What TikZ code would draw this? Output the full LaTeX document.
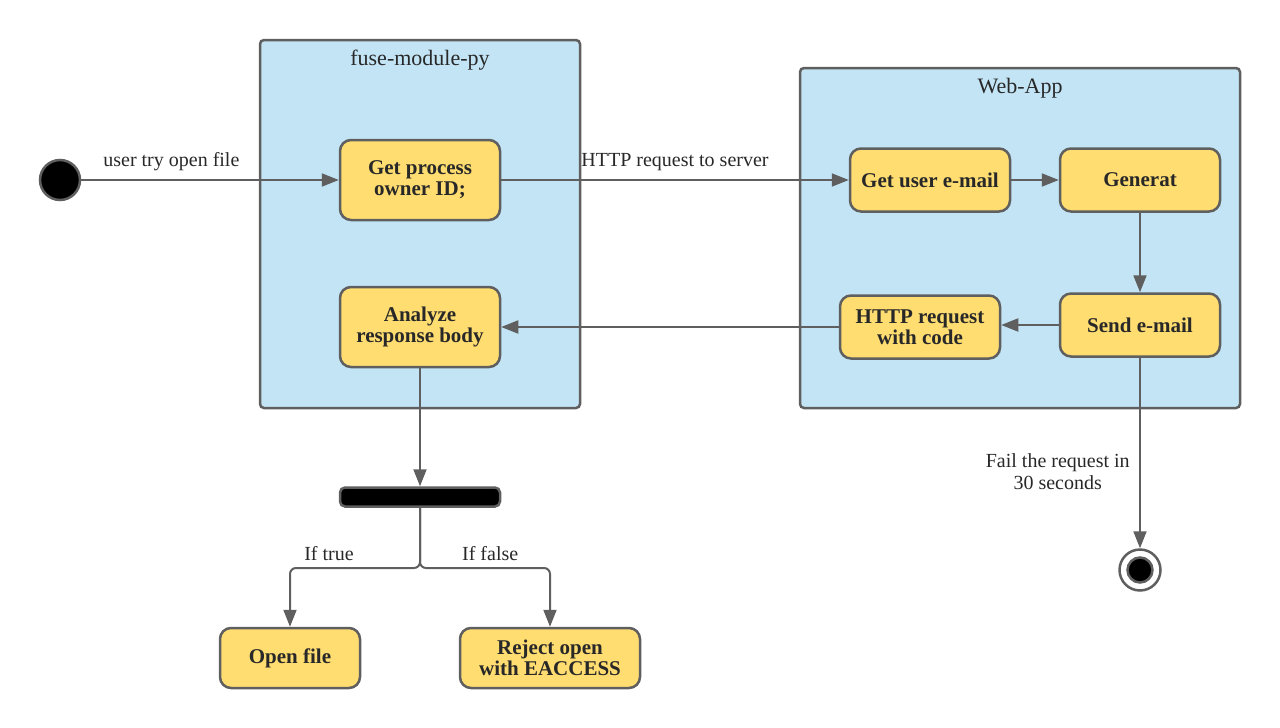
\documentclass[tikz,border=0pt]{standalone}
\usepackage{fontspec}
\setmainfont{Liberation Serif}
\usepackage{tikz}
\usetikzlibrary{positioning}
\usetikzlibrary{arrows.meta}
\definecolor{linegray}{RGB}{95,95,95}
\definecolor{laneblue}{RGB}{194,228,245}
\definecolor{actyellow}{RGB}{255,221,113}
\definecolor{textgray}{RGB}{40,40,40}
\tikzstyle{lane}=[rectangle,rounded corners=4pt,line width=2.5pt,draw=linegray,fill=laneblue]
\tikzstyle{act}=[rectangle,rounded corners=11pt,line width=2.5pt,draw=linegray,fill=actyellow,
  text=textgray,align=center,font=\fontsize{21}{21}\selectfont\bfseries,minimum width=160pt,minimum height=63pt]
\tikzstyle{lanetitle}=[anchor=north,text=textgray,font=\fontsize{22}{24}\selectfont]
\tikzstyle{flow}=[line width=2pt,draw=linegray,-{Triangle[length=17pt,width=13pt]}]
\tikzstyle{lbl}=[text=textgray,font=\fontsize{20}{22}\selectfont,align=center]

\begin{document}
\begin{tikzpicture}[x=1pt,y=-1pt]
	\useasboundingbox (0,0) rectangle (1280,728);

	% swimlanes
	\node [lane, minimum width=320pt, minimum height=368pt] (fuse) at (420,224) {};
	\node [lanetitle, yshift=-8pt] at (fuse.north) {fuse-module-py};
	\node [lane, minimum width=440pt, minimum height=340pt] (webapp) at (1020,238) {};
	\node [lanetitle, yshift=-8pt] at (webapp.north) {Web-App};

	% start / stop
	\node [circle, line width=2.5pt, draw=linegray, fill=black, minimum size=40pt] (start) at (60,180) {};
	\node [circle, line width=2.5pt, draw=linegray, fill=white, minimum size=41pt] (stop) at (1140,570) {};
	\node [circle, line width=2.5pt, draw=linegray, fill=black, minimum size=25pt] (stopdot) at (stop) {};

	% activities
	\node [act, minimum height=80pt] (owner) at (420,180) {Get process\\owner ID;};
	\node [act, minimum height=80pt] (analyze) at (420,327) {Analyze\\response body};
	\node [act] (email) at (930,180) {Get user e-mail};
	\node [act] (generat) at (1140,180) {Generat};
	\node [act] (send) at (1140,325) {Send e-mail};
	\node [act] (httpcode) at (920,327) {HTTP request\\with code};
	\node [rectangle, rounded corners=5pt, line width=2.5pt, draw=linegray, fill=black,
	       minimum width=160pt, minimum height=19pt] (bar) at (420,497) {};
	\node [act, minimum width=140pt, minimum height=60pt] (openfile) at (290,658) {Open file};
	\node [act, minimum width=180pt, minimum height=60pt] (reject) at (550,658) {Reject open\\with EACCESS};
	\coordinate (split) at (420,568);

	% connectors
	\draw [flow] (start) -- node [lbl, above=5pt, pos=0.35] {user try open file} (owner);
	\draw [flow] (owner) -- node [lbl, above=5pt] {HTTP request to server} (email);
	\draw [flow] (email) -- (generat);
	\draw [flow] (generat) -- (send);
	\draw [flow] (send.west) -- (send.west -| httpcode.east);
	\draw [flow] (httpcode) -- (analyze);
	\draw [flow] (analyze) -- (bar);
	\draw [flow, rounded corners=6pt] (bar.south) -- (split) -| node [lbl, above=3pt, pos=0.35] {If true} (openfile.north);
	\draw [flow, rounded corners=6pt] (bar.south) -- (split) -| node [lbl, above=3pt, pos=0.27] {If false} (reject.north);
	\draw [flow] (send) -- node [lbl, left=6pt, pos=0.6] {Fail the request in\\30 seconds} (stop);

\end{tikzpicture}
\end{document}
